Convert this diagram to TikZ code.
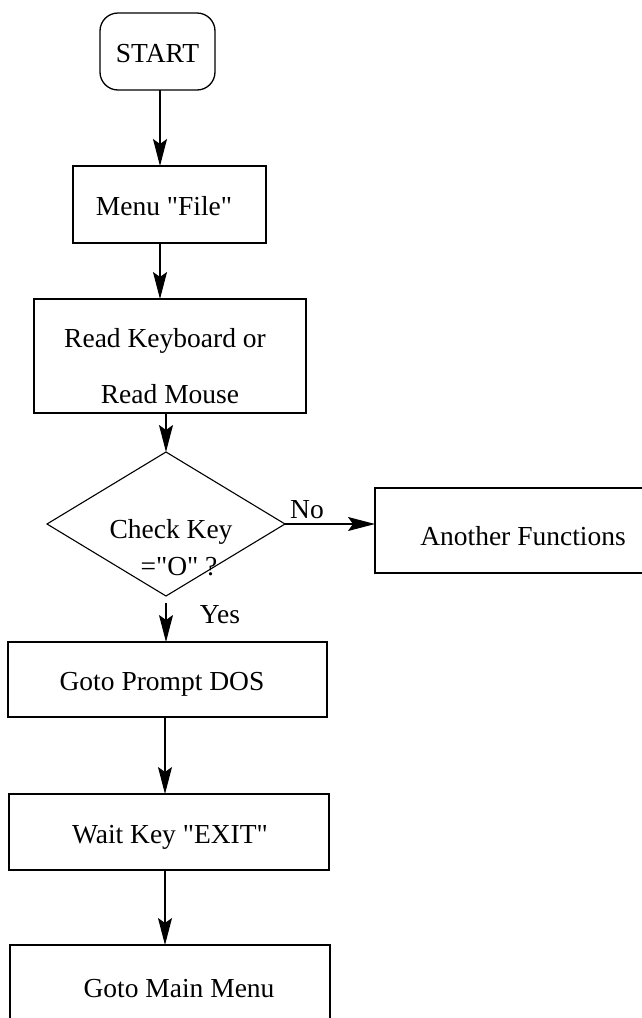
\documentclass[tikz,border=0pt]{standalone}
\usepackage{fontspec}
\setmainfont{Liberation Serif}[Ligatures=TeXOff]
\usetikzlibrary{shapes.geometric,arrows.meta}
\begin{document}
\begin{tikzpicture}[x=1pt,y=-1pt,
  every node/.style={inner sep=0pt, outer sep=0pt},
  txt/.style={font=\fontsize{27.5}{31}\selectfont, anchor=base},
  procbox/.style={draw, rectangle, line width=1.3pt},
  termbox/.style={draw, rectangle, rounded corners=18pt, line width=1.3pt},
  decbox/.style={draw, diamond, line width=1.1pt},
  flow/.style={line width=1.1pt, -{Stealth[length=27pt,width=14pt,inset=5pt]}}
]
% page frame
\clip (0,0) rectangle (642,1018);
\fill[white] (0,0) rectangle (642,1018);

% boxes
\node[termbox, minimum width=115pt, minimum height=77pt] (start) at (157.5,51.5) {};
\node[procbox, minimum width=193pt, minimum height=77pt] (menu) at (169.5,204.5) {};
\node[procbox, minimum width=272pt, minimum height=114pt] (read) at (170,356) {};
\node[decbox, minimum width=238pt, minimum height=144pt] (dec) at (166,524) {};
\node[procbox, minimum width=275pt, minimum height=85pt] (another) at (512.5,530.5) {};
\node[procbox, minimum width=319pt, minimum height=75pt] (prompt) at (167.5,679.5) {};
\node[procbox, minimum width=320pt, minimum height=76pt] (wait) at (169,832) {};
\node[procbox, minimum width=320pt, minimum height=85pt] (mainm) at (170,987.5) {};

% texts
\node[txt] (startT) at (157.5,62) {START};
\node[txt] (menuT) at (164,215) {Menu "File"};
\node[txt] (readA) at (165,347) {Read Keyboard or};
\node[txt] (readB) at (170,403) {Read Mouse};
\node[txt] (decA) at (171,538) {Check Key};
\node[txt] (decB) at (179,575) {="O" ?};
\node[txt] (noT) at (307,518) {No};
\node[txt] (yesT) at (220,623) {Yes};
\node[txt] (anotherT) at (523,545) {Another Functions};
\node[txt] (promptT) at (162,690) {Goto Prompt DOS};
\node[txt] (waitT) at (170,843) {Wait Key "EXIT"};
\node[txt] (mainmT) at (179,997) {Goto Main Menu};

% flow lines
\coordinate (colA) at (160,0);
\coordinate (colB) at (165,0);
\draw[flow] (start.south -| colA) -- (menu.north -| colA);
\draw[flow] (menu.south -| colA) -- (read.north -| colA);
\draw[flow] (read.south -| dec.north) -- (dec.north);
\draw[flow] (dec.east) -- (dec.east -| another.west);
\draw[flow, shorten <=7pt] (dec.south) -- (prompt.north -| dec.south);
\draw[flow] (prompt.south -| colB) -- (wait.north -| colB);
\draw[flow] (wait.south -| colB) -- (mainm.north -| colB);
\end{tikzpicture}
\end{document}
